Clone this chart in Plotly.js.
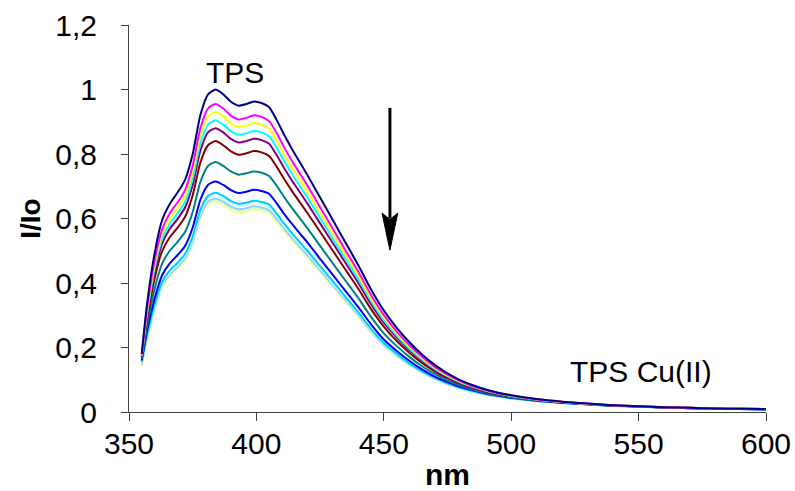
<!DOCTYPE html>
<html>
<head>
<meta charset="utf-8">
<script src="https://cdn.plot.ly/plotly-3.0.1.min.js"></script>
<style>html,body{margin:0;padding:0;background:#fff;}#chart{width:795px;height:491px;}</style>
</head>
<body>
<div id="chart"></div>
<script>
// wavelength (nm)
const wavelength = [355,357,360,363,366,369,372,375,378,381,384,387,390,393,396,399,402,405,408,411,414,417,420,425,430,435,440,445,450,455,460,465,470,475,480,485,490,495,500,510,520,530,540,550,560,570,580,590,600];

// I/Io for successive Cu(II) additions (top: TPS, bottom: TPS Cu(II))
const curve1 = [0.18,0.33,0.49,0.595,0.645,0.68,0.72,0.80,0.92,0.985,1.000,0.985,0.962,0.950,0.955,0.963,0.958,0.945,0.905,0.858,0.815,0.775,0.735,0.665,0.595,0.525,0.455,0.380,0.315,0.262,0.217,0.178,0.146,0.120,0.099,0.083,0.070,0.060,0.052,0.040,0.032,0.026,0.021,0.018,0.015,0.013,0.011,0.010,0.009];
const curve2 = [0.178,0.315,0.468,0.566,0.616,0.649,0.688,0.764,0.879,0.941,0.955,0.941,0.919,0.907,0.912,0.920,0.915,0.902,0.864,0.819,0.778,0.740,0.702,0.635,0.568,0.501,0.435,0.363,0.301,0.250,0.208,0.171,0.140,0.116,0.096,0.080,0.068,0.058,0.051,0.039,0.032,0.026,0.021,0.018,0.015,0.013,0.011,0.010,0.009];
const curve3 = [0.176,0.307,0.455,0.552,0.600,0.632,0.670,0.744,0.856,0.916,0.930,0.916,0.895,0.884,0.888,0.896,0.891,0.879,0.842,0.798,0.758,0.721,0.684,0.618,0.553,0.488,0.423,0.353,0.293,0.244,0.203,0.167,0.137,0.113,0.094,0.079,0.067,0.058,0.050,0.039,0.031,0.025,0.021,0.018,0.015,0.013,0.011,0.010,0.009];
const curve4 = [0.174,0.30,0.443,0.537,0.584,0.615,0.652,0.724,0.833,0.891,0.905,0.891,0.871,0.860,0.864,0.872,0.867,0.855,0.819,0.776,0.738,0.701,0.665,0.602,0.538,0.475,0.412,0.344,0.285,0.238,0.197,0.163,0.134,0.111,0.092,0.078,0.066,0.057,0.049,0.038,0.031,0.025,0.021,0.018,0.015,0.013,0.011,0.010,0.009];
const curve5 = [0.172,0.292,0.431,0.522,0.568,0.598,0.634,0.704,0.810,0.867,0.880,0.867,0.847,0.836,0.840,0.847,0.843,0.832,0.796,0.755,0.717,0.682,0.647,0.585,0.524,0.462,0.400,0.334,0.277,0.232,0.192,0.159,0.131,0.108,0.090,0.076,0.065,0.056,0.049,0.038,0.031,0.025,0.020,0.018,0.015,0.013,0.011,0.010,0.009];
const curve6 = [0.17,0.28,0.412,0.499,0.542,0.571,0.605,0.672,0.773,0.827,0.840,0.827,0.808,0.798,0.802,0.809,0.805,0.794,0.760,0.721,0.685,0.651,0.617,0.559,0.500,0.441,0.382,0.319,0.265,0.221,0.184,0.152,0.126,0.105,0.087,0.074,0.063,0.055,0.048,0.037,0.030,0.025,0.020,0.017,0.014,0.013,0.011,0.010,0.009];
const curve7 = [0.165,0.262,0.38,0.46,0.500,0.527,0.558,0.620,0.713,0.763,0.775,0.763,0.746,0.736,0.740,0.746,0.742,0.732,0.701,0.665,0.632,0.601,0.570,0.515,0.461,0.407,0.353,0.295,0.244,0.205,0.171,0.142,0.118,0.098,0.082,0.070,0.060,0.052,0.046,0.036,0.030,0.024,0.020,0.017,0.014,0.012,0.010,0.009,0.009];
const curve8 = [0.16,0.248,0.35,0.424,0.461,0.486,0.515,0.572,0.658,0.704,0.715,0.704,0.688,0.679,0.683,0.689,0.685,0.676,0.647,0.613,0.583,0.554,0.526,0.475,0.425,0.375,0.325,0.272,0.225,0.190,0.159,0.132,0.110,0.093,0.078,0.067,0.057,0.050,0.044,0.035,0.029,0.024,0.020,0.017,0.014,0.012,0.010,0.009,0.008];
const curve9 = [0.155,0.236,0.332,0.403,0.439,0.462,0.490,0.544,0.626,0.670,0.680,0.670,0.654,0.646,0.649,0.655,0.651,0.643,0.615,0.583,0.554,0.527,0.500,0.452,0.405,0.357,0.309,0.258,0.214,0.181,0.151,0.127,0.106,0.089,0.075,0.065,0.056,0.049,0.043,0.034,0.028,0.024,0.019,0.017,0.014,0.012,0.010,0.009,0.008];
const curve10 = [0.152,0.232,0.327,0.398,0.433,0.457,0.484,0.538,0.618,0.662,0.672,0.662,0.646,0.638,0.642,0.647,0.644,0.635,0.608,0.577,0.548,0.521,0.494,0.447,0.400,0.353,0.306,0.255,0.212,0.179,0.150,0.126,0.105,0.088,0.074,0.064,0.055,0.048,0.043,0.034,0.028,0.023,0.019,0.016,0.014,0.012,0.010,0.009,0.008];
const curve11 = [0.148,0.227,0.322,0.393,0.427,0.450,0.477,0.530,0.609,0.652,0.662,0.652,0.637,0.629,0.632,0.638,0.634,0.626,0.599,0.568,0.540,0.513,0.487,0.440,0.394,0.348,0.301,0.252,0.209,0.177,0.148,0.124,0.104,0.087,0.074,0.063,0.055,0.048,0.042,0.034,0.028,0.023,0.019,0.016,0.014,0.012,0.010,0.009,0.008];
const curve12 = [0.145,0.222,0.318,0.389,0.423,0.446,0.472,0.525,0.604,0.646,0.656,0.646,0.631,0.623,0.626,0.632,0.628,0.620,0.594,0.563,0.535,0.508,0.482,0.436,0.390,0.344,0.298,0.249,0.207,0.175,0.147,0.123,0.103,0.087,0.073,0.063,0.054,0.047,0.042,0.033,0.027,0.023,0.019,0.016,0.014,0.012,0.010,0.009,0.008];
const curve13 = [0.14,0.218,0.314,0.386,0.419,0.442,0.468,0.520,0.598,0.640,0.650,0.640,0.625,0.618,0.621,0.626,0.623,0.614,0.588,0.558,0.530,0.504,0.478,0.432,0.387,0.341,0.296,0.247,0.205,0.173,0.145,0.122,0.102,0.086,0.072,0.062,0.054,0.047,0.041,0.033,0.027,0.022,0.018,0.016,0.013,0.012,0.010,0.009,0.008];

const seriesList = [curve1,curve2,curve3,curve4,curve5,curve6,curve7,curve8,curve9,curve10,curve11,curve12,curve13];
const colors = ['#000080','#FF00FF','#FFFF00','#00FFFF','#800080','#800000','#008080','#0000FF','#00CCFF','#CCFFFF','#99CCFF','#CCFFCC','#FFFF99'];

const yTicks = [0,0.2,0.4,0.6,0.8,1,1.2];
const xTicks = [350,400,450,500,550,600];

const FONT = 'Liberation Sans, Arial, sans-serif';

const traces = seriesList.slice().reverse().map((ys, i) => {
  const idx = seriesList.length - 1 - i;
  return {
    x: wavelength, y: ys, type: 'scatter', mode: 'lines',
    line: {color: colors[idx], width: 2, shape: 'spline', smoothing: 0.6},
    hoverinfo: 'skip', showlegend: false
  };
});

const layout = {
  width: 795, height: 491,
  margin: {l: 129, r: 29, t: 25, b: 79},
  paper_bgcolor: '#fff', plot_bgcolor: '#fff',
  separators: ',.',
  font: {family: FONT, color: '#000', size: 30},
  showlegend: false,
  xaxis: {
    range: [350, 600], tickvals: xTicks, ticks: 'outside', ticklen: 8, tickcolor: '#404040',
    showline: true, linecolor: '#404040', linewidth: 1, showgrid: false, zeroline: false,
    tickfont: {family: FONT, size: 30, color: '#000'}, ticklabelstandoff: -3,
    title: {text: '<b>nm</b>', font: {family: FONT, size: 30, color: '#000'}, standoff: 6}
  },
  yaxis: {
    range: [0, 1.2], tickvals: yTicks, ticks: 'outside', ticklen: 7, tickcolor: '#404040',
    showline: true, linecolor: '#404040', linewidth: 1, showgrid: false, zeroline: false,
    tickfont: {family: FONT, size: 30, color: '#000'}, ticklabelstandoff: 18,
    title: {text: '<b>I/Io</b>', font: {family: FONT, size: 28, color: '#000'}, standoff: 6}
  },
  annotations: [
    {x: 391.6, y: 1.054, xref: 'x', yref: 'y', text: 'TPS', showarrow: false,
     font: {family: FONT, size: 30, color: '#000'}},
    {x: 551, y: 0.126, xref: 'x', yref: 'y', text: 'TPS Cu(II)', showarrow: false,
     font: {family: FONT, size: 30, color: '#000'}}
  ],
  shapes: [
    {type: 'line', xref: 'x', yref: 'y', x0: 452.4, x1: 452.4, y0: 0.943, y1: 0.60,
     line: {color: '#000', width: 3}},
    {type: 'path', xref: 'x', yref: 'y',
     path: 'M 449.3,0.617 L 452.4,0.597 L 455.5,0.617 L 452.4,0.502 Z',
     fillcolor: '#000', line: {color: '#000', width: 1}}
  ]
};

Plotly.newPlot('chart', traces, layout, {staticPlot: true, displayModeBar: false});
</script>
</body>
</html>
